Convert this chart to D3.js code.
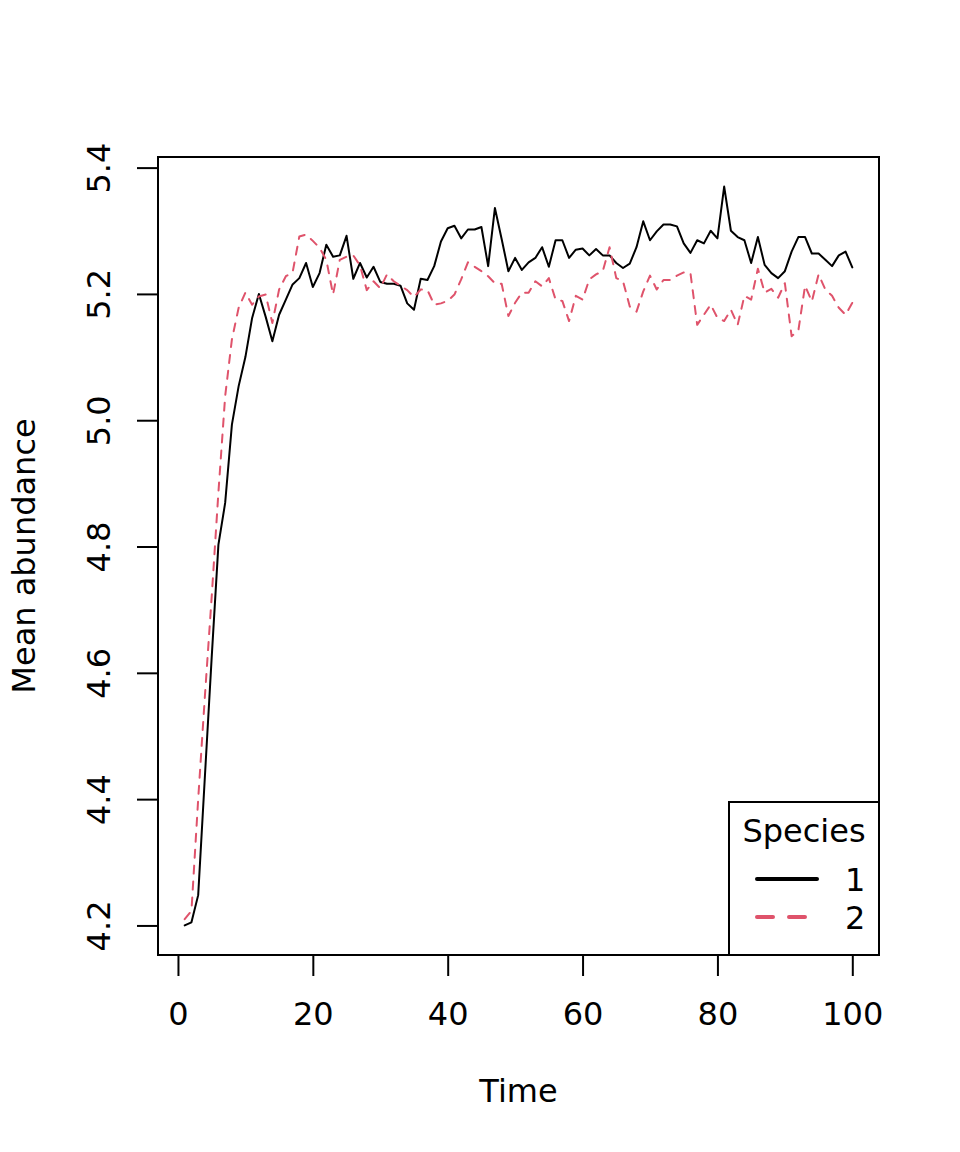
<!DOCTYPE html>
<html>
<head>
    <meta charset="utf-8">
    <title>mean-abundance</title>
    <style>
body { margin: 0; background: #fff; }
text { font-family: "DejaVu Sans", sans-serif; font-size: 32px; fill: #000; }
.axis path, .axis line { stroke: #000; stroke-width: 2; }
    </style>
</head>
<body>
<script src="https://cdn.jsdelivr.net/npm/d3@7"></script>
<script>
// time steps and the mean abundance of each species
var time = d3.range(1, 101);

var species1 = [
    4.200, 4.205, 4.248, 4.437, 4.624, 4.803, 4.869, 4.993, 5.054, 5.100,
    5.162, 5.200, 5.164, 5.125, 5.167, 5.191, 5.215, 5.225, 5.249, 5.211,
    5.233, 5.278, 5.259, 5.261, 5.292, 5.224, 5.249, 5.226, 5.243, 5.219,
    5.216, 5.216, 5.213, 5.185, 5.175, 5.224, 5.222, 5.244, 5.283, 5.304,
    5.308, 5.288, 5.302, 5.302, 5.306, 5.244, 5.336, 5.287, 5.236, 5.257,
    5.238, 5.250, 5.257, 5.274, 5.243, 5.285, 5.285, 5.257, 5.270, 5.272,
    5.261, 5.271, 5.261, 5.261, 5.249, 5.241, 5.248, 5.274, 5.315, 5.285,
    5.299, 5.310, 5.310, 5.307, 5.280, 5.265, 5.285, 5.280, 5.300, 5.288,
    5.370, 5.300, 5.290, 5.285, 5.249, 5.290, 5.246, 5.233, 5.225, 5.236,
    5.267, 5.290, 5.290, 5.264, 5.264, 5.254, 5.244, 5.261, 5.267, 5.242
];

var species2 = [
    4.210, 4.223, 4.400, 4.564, 4.720, 4.886, 5.038, 5.128, 5.178, 5.202,
    5.183, 5.196, 5.199, 5.154, 5.207, 5.228, 5.234, 5.291, 5.294, 5.284,
    5.273, 5.254, 5.199, 5.254, 5.259, 5.261, 5.245, 5.206, 5.220, 5.209,
    5.231, 5.220, 5.213, 5.206, 5.195, 5.207, 5.206, 5.183, 5.185, 5.189,
    5.199, 5.223, 5.250, 5.243, 5.236, 5.228, 5.217, 5.216, 5.165, 5.186,
    5.202, 5.202, 5.220, 5.212, 5.225, 5.191, 5.189, 5.157, 5.197, 5.191,
    5.223, 5.231, 5.236, 5.274, 5.225, 5.220, 5.180, 5.172, 5.204, 5.229,
    5.207, 5.222, 5.222, 5.229, 5.234, 5.233, 5.151, 5.167, 5.183, 5.162,
    5.157, 5.175, 5.151, 5.197, 5.191, 5.240, 5.202, 5.208, 5.194, 5.217,
    5.133, 5.142, 5.213, 5.188, 5.231, 5.207, 5.197, 5.178, 5.167, 5.186
];

var xTicks = [0, 20, 40, 60, 80, 100];
var yTicks = [4.2, 4.4, 4.6, 4.8, 5.0, 5.2, 5.4];
var seriesNames = ["1", "2"];
var seriesColors = ["#000000", "#DF536B"];
var seriesDash = [null, "8,8"];

var totalWidth = 960, totalHeight = 1152;
var box = { left: 158, right: 879, top: 157, bottom: 955 };

var svg = d3.select("body").append("svg")
    .attr("width", totalWidth)
    .attr("height", totalHeight);

svg.append("rect").attr("width", totalWidth).attr("height", totalHeight).attr("fill", "#fff");

// R style ranges: data extent widened by 4% on each side
function pad(ext) {
    var r = ext[1] - ext[0];
    return [ext[0] - 0.04 * r, ext[1] + 0.04 * r];
}

var x = d3.scaleLinear()
    .domain(pad(d3.extent(time)))
    .range([box.left, box.right]);

var y = d3.scaleLinear()
    .domain(pad(d3.extent(species1.concat(species2))))
    .range([box.bottom, box.top]);

// axes
var xAxis = svg.append("g")
    .attr("class", "axis")
    .attr("transform", "translate(0," + box.bottom + ")")
    .call(d3.axisBottom(x).tickValues(xTicks).tickSize(21).tickSizeOuter(0).tickFormat(d3.format("d")));
xAxis.select(".domain").remove();
xAxis.append("line").attr("x1", x(xTicks[0])).attr("x2", x(xTicks[xTicks.length - 1]));
xAxis.selectAll("text").attr("y", 70).attr("dy", null).attr("fill", "#000");

var yAxis = svg.append("g")
    .attr("class", "axis")
    .attr("transform", "translate(" + box.left + ",0)")
    .call(d3.axisLeft(y).tickValues(yTicks).tickSize(21).tickSizeOuter(0).tickFormat(d3.format(".1f")));
yAxis.select(".domain").remove();
yAxis.append("line").attr("y1", y(yTicks[0])).attr("y2", y(yTicks[yTicks.length - 1]));
yAxis.selectAll("text")
    .attr("x", null).attr("dy", null)
    .attr("fill", "#000")
    .attr("transform", "translate(-48,0) rotate(-90)");
yAxis.selectAll(".tick text").style("text-anchor", "middle");

// plot box
svg.append("rect")
    .attr("x", box.left).attr("y", box.top)
    .attr("width", box.right - box.left).attr("height", box.bottom - box.top)
    .attr("fill", "none").attr("stroke", "#000").attr("stroke-width", 2);

// series lines
var line = d3.line()
    .x(function (d, i) { return x(time[i]); })
    .y(function (d) { return y(d); });

[species1, species2].forEach(function (s, k) {
    svg.append("path")
        .datum(s)
        .attr("d", line)
        .attr("fill", "none")
        .attr("stroke", seriesColors[k])
        .attr("stroke-width", 2)
        .attr("stroke-linejoin", "round")
        .attr("stroke-linecap", "round")
        .attr("stroke-dasharray", seriesDash[k]);
});

// axis titles
svg.append("text")
    .attr("x", (box.left + box.right) / 2).attr("y", 1102)
    .attr("text-anchor", "middle")
    .text("Time");

svg.append("text")
    .attr("transform", "translate(35," + (box.top + box.bottom) / 2 + ") rotate(-90)")
    .attr("text-anchor", "middle")
    .text("Mean abundance");

// legend, bottom right
var legend = svg.append("g");
legend.append("rect")
    .attr("x", 729).attr("y", 802)
    .attr("width", box.right - 729).attr("height", box.bottom - 802)
    .attr("fill", "#fff").attr("stroke", "#000").attr("stroke-width", 2);
legend.append("text")
    .attr("x", 804).attr("y", 842)
    .attr("text-anchor", "middle")
    .text("Species");
seriesNames.forEach(function (name, k) {
    var ly = 879 + k * 38;
    legend.append("line")
        .attr("x1", 757).attr("x2", 817)
        .attr("y1", ly).attr("y2", ly)
        .attr("stroke", seriesColors[k])
        .attr("stroke-width", 4)
        .attr("stroke-linecap", "round")
        .attr("stroke-dasharray", seriesDash[k] ? "16,16" : null);
    legend.append("text")
        .attr("x", 845).attr("y", ly + 12)
        .text(name);
});
</script>
</body>
</html>
